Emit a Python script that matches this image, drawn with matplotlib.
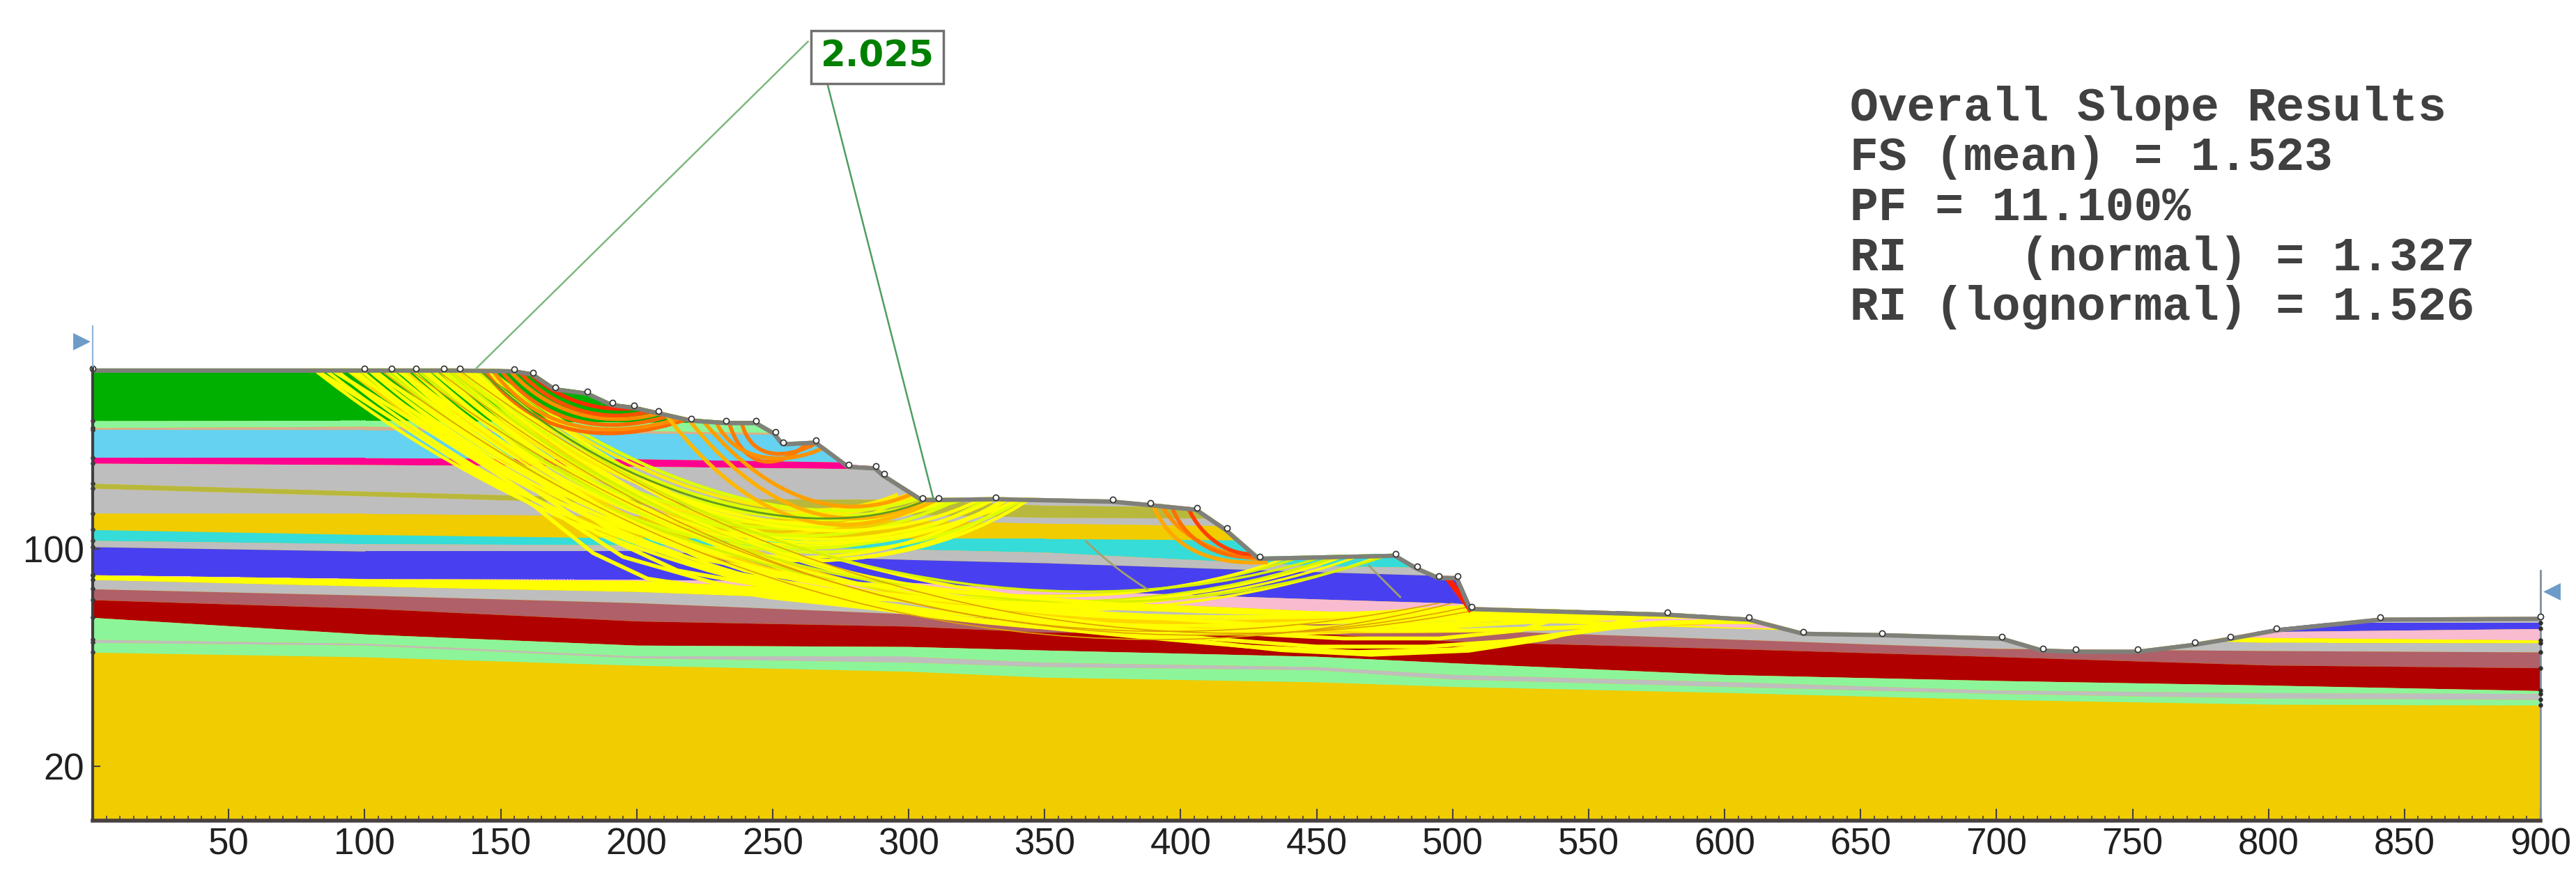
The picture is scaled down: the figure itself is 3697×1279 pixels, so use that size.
import numpy as np
import matplotlib
matplotlib.use('Agg')
import matplotlib.pyplot as plt
from matplotlib.patches import Polygon, PathPatch
from matplotlib.path import Path

# ground surface vertices
ground_x = [0, 100, 110, 119, 129, 135, 155, 162, 170, 182, 191, 199, 208, 220, 233, 244, 251, 254, 266, 278,
            288, 291, 305, 311, 332, 375, 389, 406, 417, 429, 479, 487, 495, 502, 507, 579, 609, 629, 658, 702,
            717, 729, 752, 773, 786, 803, 841, 900]
ground_y = [166.3, 166.3, 166.3, 166.3, 166.3, 166.3, 166.0, 164.8, 159.4, 157.8, 153.6, 152.6, 150.6, 147.9, 147.0,
            147.0, 143.0, 139.2, 139.8, 130.9, 130.3, 127.6, 118.7, 118.7, 119.0, 118.1, 116.8, 115.1, 107.6, 97.1,
            98.2, 93.5, 90.0, 90.0, 78.6, 76.5, 74.7, 69.5, 69.0, 67.7, 63.3, 62.9, 62.9, 65.5, 67.7, 70.8, 74.7, 75.0]

# material boundaries, read at these stations
stations = [0, 100, 200, 300, 350, 450, 500, 600, 700, 800, 900]
green_bot = [147.0, 147.2, 146.5, 146.0, 146.0, 146.0, 146.0, 146.0, 146.0, 146.0, 146.0]
lgreen_bot = [144.5, 145.0, 143.4, 142.0, 142.0, 142.0, 142.0, 142.0, 142.0, 142.0, 142.0]
tan_bot = [143.8, 143.7, 142.5, 141.5, 141.5, 141.5, 141.5, 141.5, 141.5, 141.5, 141.5]
lblue_bot = [133.4, 133.4, 133.0, 131.5, 131.0, 131.0, 131.0, 131.0, 131.0, 131.0, 131.0]
pink_bot = [131.4, 130.9, 130.3, 129.2, 129.0, 129.0, 129.0, 129.0, 129.0, 129.0, 129.0]
gray1_bot = [124.0, 121.1, 118.5, 118.1, 115.9, 115.0, 115.0, 115.0, 115.0, 115.0, 115.0]
olive_bot = [122.2, 119.4, 116.5, 112.6, 111.5, 111.0, 111.0, 111.0, 111.0, 111.0, 111.0]
gray2_bot = [113.0, 112.9, 112.0, 110.4, 109.3, 108.0, 108.0, 108.0, 108.0, 108.0, 108.0]
gold_bot = [107.0, 105.2, 103.9, 103.7, 103.7, 103.0, 103.0, 103.0, 103.0, 103.0, 103.0]
turq_bot = [103.0, 101.8, 101.4, 99.8, 98.7, 93.7, 93.0, 93.0, 93.0, 93.0, 93.0]
gray3_bot = [100.7, 99.1, 99.1, 96.0, 94.8, 91.5, 90.0, 75.0, 73.0, 72.8, 72.8]
blue_bot = [90.4, 89.0, 88.7, 87.6, 84.9, 81.5, 80.0, 74.0, 71.0, 69.5, 70.6]
lpink_bot = [90.3, 88.9, 88.3, 83.7, 81.5, 77.1, 76.0, 71.2, 68.6, 67.3, 66.4]
yellow_bot = [88.6, 86.2, 84.2, 80.4, 78.2, 75.4, 73.8, 70.8, 68.1, 65.5, 65.3]
gray4_bot = [85.2, 82.9, 80.1, 76.0, 73.8, 72.6, 70.3, 66.8, 63.3, 62.5, 62.0]
mauve_bot = [81.2, 78.1, 73.4, 71.5, 69.3, 68.8, 66.0, 63.3, 60.3, 57.2, 56.2]
red_bot = [74.7, 68.6, 64.5, 64.0, 62.7, 60.4, 58.0, 53.7, 51.5, 49.8, 47.8]
lgreen2_bot = [66.6, 65.2, 60.5, 60.4, 58.2, 56.6, 53.7, 51.1, 48.0, 47.0, 46.7]
gray5_bot = [65.5, 64.5, 59.8, 58.2, 56.6, 55.4, 52.0, 49.3, 46.7, 45.0, 44.5]
lgreen3_bot = [61.9, 60.2, 57.1, 54.9, 52.7, 51.0, 49.3, 47.1, 44.5, 42.8, 42.5]

boundaries = [green_bot, lgreen_bot, tan_bot, lblue_bot, pink_bot, gray1_bot, olive_bot, gray2_bot, gold_bot,
              turq_bot, gray3_bot, blue_bot, lpink_bot, yellow_bot, gray4_bot, mauve_bot, red_bot, lgreen2_bot,
              gray5_bot, lgreen3_bot]
layer_colors = ['#00B000', '#8CF59A', '#D8B090', '#64D2F0', '#FF0090', '#BEBEBE', '#B8B83C', '#BEBEBE', '#F0CC00',
                '#36DCD8', '#BEBEBE', '#4840F0', '#F8BBD0', '#FFFF00', '#BEBEBE', '#B06068', '#B00000', '#8CF59A',
                '#BEBEBE', '#8CF59A']

# slip surfaces as bezier control points: entry x, ctrl1, ctrl2, exit
deep_entry = [80, 84, 88, 92, 97, 102, 108, 113, 118, 123, 128, 132, 136, 140, 143]
deep_c1x = [215, 212, 215, 218, 215, 220, 225, 222, 228, 232, 230, 235, 238, 240, 240]
deep_c1y = [60, 65, 62, 68, 66, 70, 66, 72, 70, 74, 72, 78, 76, 82, 86]
deep_c2x = [380, 375, 370, 385, 360, 370, 365, 355, 370, 350, 360, 345, 350, 340, 345]
deep_c2y = [60, 58, 62, 62, 60, 63, 58, 64, 66, 60, 66, 62, 68, 66, 70]
deep_exit = [578, 570, 560, 620, 545, 590, 530, 525, 560, 510, 545, 510, 530, 508, 520]
deep_exit_y = [77, 77, 77, 74, 78, 76, 78, 78, 77, 79, 78, 79, 78, 79, 78]

bench1_entry = [95, 100, 106, 111, 116, 121, 126, 130, 134, 138, 141]
bench1_c1x = [190, 192, 195, 198, 196, 200, 205, 203, 205, 208, 206]
bench1_c1y = [85, 88, 90, 86, 92, 94, 90, 98, 96, 102, 106]
bench1_c2x = [290, 285, 288, 280, 285, 275, 285, 280, 272, 285, 275]
bench1_c2y = [80, 78, 84, 82, 88, 85, 92, 90, 94, 95, 98]
bench1_exit = [347, 342, 345, 338, 340, 332, 345, 335, 322, 330, 318]

bench2_entry = [100, 105, 112, 118, 124, 130, 135, 140]
bench2_c1x = [210, 212, 215, 218, 220, 225, 222, 228]
bench2_c1y = [75, 78, 72, 80, 76, 82, 84, 88]
bench2_c2x = [370, 365, 372, 360, 368, 372, 360, 365]
bench2_c2y = [60, 62, 58, 66, 62, 60, 64, 66]
bench2_exit = [470, 462, 478, 450, 465, 480, 445, 458]

upper_entry = [112, 118, 123, 127, 131, 134, 137, 139, 142, 144]
upper_c1x = [180, 185, 188, 190, 190, 192, 194, 196, 198, 196]
upper_c1y = [108, 112, 114, 112, 118, 116, 120, 118, 122, 126]
upper_c2x = [250, 255, 245, 260, 250, 262, 252, 265, 258, 262]
upper_c2y = [88, 92, 96, 94, 100, 98, 102, 100, 104, 102]
upper_exit = [300, 310, 296, 320, 305, 326, 300, 315, 296, 308]

thin_entry = [104, 115, 125, 133]
thin_c1x = [240, 250, 255, 262]
thin_c1y = [62, 66, 64, 70]
thin_c2x = [390, 400, 385, 410]
thin_c2y = [52, 54, 58, 54]
thin_exit = [500, 512, 495, 520]

# lowest surfaces, read point by point
low1_x = [80, 110, 136, 162, 184, 204, 250, 297, 340, 388, 437, 470, 506, 534, 578]
low1_y = [167, 148, 131, 116, 98.4, 89, 82, 77, 72, 68, 62.7, 61, 62.5, 66.8, 77]
low2_x = [86, 118, 145, 172, 195, 230, 280, 330, 380, 425, 465, 500, 530, 560, 600]
low2_y = [167, 147, 130, 112, 97, 87, 79, 73, 68, 64, 62, 63, 67, 71, 74]
low3_x = [92, 125, 155, 185, 215, 260, 310, 360, 410, 450, 490, 520, 550, 575]
low3_y = [167, 146, 127, 106, 92, 84, 77, 72, 67, 64, 64, 66, 70, 76]
low4_x = [100, 135, 165, 190, 225, 270, 320, 375, 420, 460, 495, 525, 550]
low4_y = [167, 144, 124, 107, 93, 85, 78, 72, 69, 67, 67, 70, 78]
low5_x = [110, 145, 175, 205, 240, 285, 335, 385, 430, 470, 505, 540, 580, 620]
low5_y = [167, 143, 123, 104, 92, 84, 79, 75, 72, 70, 70, 71, 73, 73]
low6_x = [120, 155, 190, 225, 270, 320, 370, 420, 470, 510, 550, 590]
low6_y = [167, 138, 112, 96, 88, 84, 80, 77, 75, 75, 75, 75]

# shallow surfaces near the crest and benches: x0, y0, c1x, c1y, c2x, c2y, x1, y1
shallow_x0 = [143, 146, 149, 152, 155, 158, 238, 233, 228, 215, 222, 208, 392, 396, 389, 402]
shallow_y0 = [167, 167, 167, 167, 167, 167, 150, 150, 150, 153, 150, 153, 118, 118, 118, 117]
shallow_c1x = [163, 165, 168, 170, 172, 172, 240, 238, 234, 250, 252, 245, 398, 400, 396, 406]
shallow_c1y = [138, 140, 142, 146, 148, 153, 132, 128, 130, 105, 112, 102, 105, 103, 100, 106]
shallow_c2x = [195, 195, 195, 195, 192, 188, 255, 252, 258, 285, 282, 280, 412, 414, 410, 416]
shallow_c2y = [138, 140, 142, 144, 146, 150, 132, 128, 130, 105, 110, 102, 98, 96, 94, 98]
shallow_x1 = [225, 222, 218, 215, 210, 202, 268, 264, 272, 310, 305, 312, 430, 428, 432, 426]
shallow_y1 = [150, 150, 151, 152, 152, 152, 140, 140, 139, 120, 122, 119, 96, 97, 95, 98]
shallow_colors = ['#FF6A00', '#FF8C00', '#FF6A00', '#FF8C00', '#FF5000', '#FF2A00', '#FF7A00', '#FF7A00', '#FF9000',
                  '#FFB000', '#FFA000', '#FFB800', '#FF9000', '#FF7000', '#FFA800', '#FF4000']

# annotation and result text
critical_fs = '2.025'
result_lines = ['Overall Slope Results', 'FS (mean) = 1.523', 'PF = 11.100%', 'RI    (normal) = 1.327',
                'RI (lognormal) = 1.526']
result_rows = [155, 226, 298, 370, 441]

W, H = 3697, 1279
x_px0, x_px1, y_px0 = 133, 3646, 1178
fig = plt.figure(figsize=(W / 100, H / 100), dpi=100)
ax = fig.add_axes([x_px0 / W, (H - y_px0) / H, (x_px1 - x_px0) / W, y_px0 / H])
ax.set_xlim(0, 900)
ax.set_ylim(0, 900 * y_px0 / (x_px1 - x_px0))
ax.patch.set_alpha(0)

ground = Polygon(list(zip(ground_x, ground_y)) + [(900, 0), (0, 0)], closed=True, fc='#F0CC00', ec='none', zorder=1)
ax.add_patch(ground)

top = [170] * len(stations)
for bot, col in zip(boundaries, layer_colors):
    art = ax.fill_between(stations, bot, top, color=col, lw=0, zorder=2)
    art.set_clip_path(ground)
    top = bot


def slip(x0, y0, c1x, c1y, c2x, c2y, x1, y1, color, lw, z=3):
    path = Path([(x0, y0), (c1x, c1y), (c2x, c2y), (x1, y1)], [Path.MOVETO, Path.CURVE4, Path.CURVE4, Path.CURVE4])
    patch = PathPatch(path, fill=False, ec=color, lw=lw, zorder=z)
    ax.add_patch(patch)
    patch.set_clip_path(ground)


for i in range(len(deep_entry)):
    col = '#FFD800' if i % 4 == 3 else '#FFFF00'
    slip(deep_entry[i], 167, deep_c1x[i], deep_c1y[i], deep_c2x[i], deep_c2y[i], deep_exit[i], deep_exit_y[i], col, 3.4)
for i in range(len(upper_entry)):
    col = '#DFFF00' if i % 2 else '#FFEC00'
    slip(upper_entry[i], 167, upper_c1x[i], upper_c1y[i], upper_c2x[i], upper_c2y[i], upper_exit[i], 120, col, 3.4)
for i in range(len(bench1_entry)):
    col = '#E0FF00' if i % 3 == 2 else '#FFFF00'
    slip(bench1_entry[i], 167, bench1_c1x[i], bench1_c1y[i], bench1_c2x[i], bench1_c2y[i], bench1_exit[i], 120, col, 3.4)
for i in range(len(bench2_entry)):
    col = '#D8F000' if i % 2 else '#FFFF00'
    slip(bench2_entry[i], 167, bench2_c1x[i], bench2_c1y[i], bench2_c2x[i], bench2_c2y[i], bench2_exit[i], 99, col, 2.6)
for i in range(len(thin_entry)):
    slip(thin_entry[i], 167, thin_c1x[i], thin_c1y[i], thin_c2x[i], thin_c2y[i], thin_exit[i], 80, '#E0A000', 1.2, z=4)
for lx, ly in [(low1_x, low1_y), (low2_x, low2_y), (low3_x, low3_y), (low4_x, low4_y), (low5_x, low5_y), (low6_x, low6_y)]:
    seg, = ax.plot(lx, ly, color='#FFFF00', lw=4, zorder=3)
    seg.set_clip_path(ground)
for i in range(len(shallow_x0)):
    slip(shallow_x0[i], shallow_y0[i], shallow_c1x[i], shallow_c1y[i], shallow_c2x[i], shallow_c2y[i],
         shallow_x1[i], shallow_y1[i], shallow_colors[i], 4.0, z=4)

# critical surface, red toe wedge
slip(141, 167, 195, 115, 270, 100, 309, 119, '#5E9A20', 2.0, z=5)
slip(496, 92, 499, 88, 503, 83, 507, 77, '#FF2000', 6.0, z=5)
slip(365, 103, 372, 96, 380, 90, 388, 85, '#A0A070', 2.0, z=5)
slip(469, 94, 473, 90, 477, 86, 481, 82, '#A0A070', 2.0, z=5)

# surface outline, half of the stroke falls outside the clip
line, = ax.plot(ground_x, ground_y, color='#80807A', lw=9, zorder=6)
line.set_clip_path(ground)
ax.scatter(ground_x, ground_y, s=34, fc='white', ec='#303030', lw=1.2, zorder=7, clip_on=False)

# vertices on the side boundaries
side_y0 = [b[0] for b in boundaries]
side_y1 = [b[-1] for b in boundaries if b[-1] < ground_y[-1]]
ax.scatter([0] * len(side_y0), side_y0, s=22, c='#303030', lw=0, zorder=8, clip_on=False)
ax.scatter([900] * len(side_y1), side_y1, s=22, c='#303030', lw=0, zorder=8, clip_on=False)

# water table markers
ax.scatter([-4], [176.3], marker='>', s=320, c='#6D9CC8', lw=0, clip_on=False, zorder=8)
ax.scatter([904], [84.3], marker='<', s=320, c='#6D9CC8', lw=0, clip_on=False, zorder=8)
ax.plot([0, 0], [166, 182], color='#8FB4D8', lw=1.5, zorder=8, clip_on=False)
ax.plot([900, 900], [0, 92], color='#8090A0', lw=2, zorder=5, clip_on=False)

# FS label with leader lines
ax.plot([141, 263], [166.3, 286.5], color='#7DB87D', lw=1.8, zorder=8)
ax.plot([309, 270], [118.8, 271.5], color='#4E9E60', lw=1.8, zorder=8)
fig.text(1259 / W, 1 - 82 / H, critical_fs, color='#008000', family='DejaVu Sans', weight='bold', fontsize=37,
         ha='center', va='center',
         bbox=dict(boxstyle='square,pad=0.26', fc='white', ec='#707070', lw=2.5))

for row, txt in zip(result_rows, result_lines):
    fig.text(2655 / W, 1 - row / H, txt, family='Liberation Mono', weight='bold', fontsize=49, color='#404040',
             ha='left', va='center')

# axes
for side in ['top', 'right']:
    ax.spines[side].set_visible(False)
ax.spines['left'].set_bounds(0, 166.3)
ax.spines['left'].set_linewidth(3)
ax.spines['left'].set_color('#404040')
ax.spines['bottom'].set_linewidth(4)
ax.spines['bottom'].set_color('#484040')
ax.set_xticks(np.arange(50, 901, 50))
ax.set_xticks(np.arange(0, 901, 5), minor=True)
ax.set_yticks([20, 100])
ax.set_yticklabels(['20', '100'])
ax.tick_params(axis='x', which='major', direction='in', length=12, width=1.5, color='#484040', labelsize=38,
               labelcolor='#202020', pad=7)
ax.tick_params(axis='x', which='minor', direction='in', length=5, width=1.2, color='#484040')
ax.tick_params(axis='y', which='major', direction='in', length=8, width=1.5, color='#484040', labelsize=38,
               labelcolor='#202020', pad=9)
for lab in ax.get_xticklabels() + ax.get_yticklabels():
    lab.set_family('Liberation Sans')
for t in ax.xaxis.get_major_ticks() + ax.xaxis.get_minor_ticks() + ax.yaxis.get_major_ticks():
    t.set_zorder(9)
ax.set_axisbelow(False)
for s in ax.spines.values():
    s.set_zorder(9)

plt.savefig('out.png', dpi=100)
